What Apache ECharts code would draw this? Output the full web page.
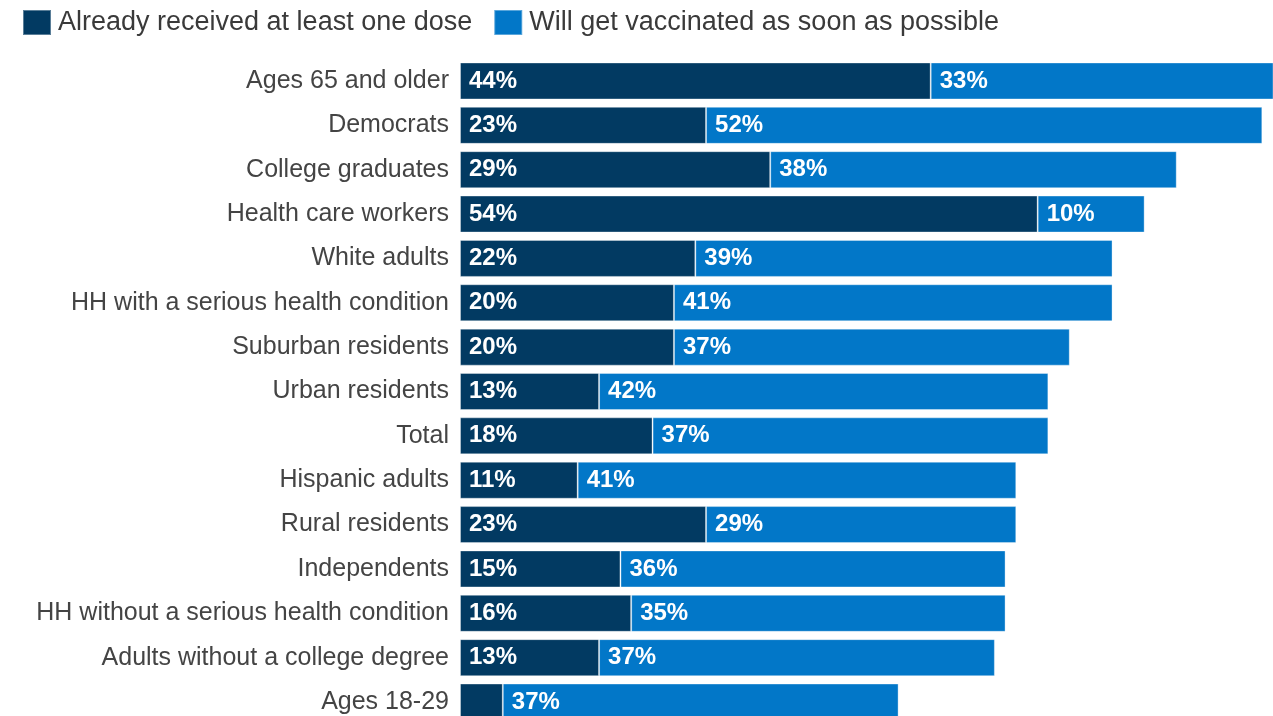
<!DOCTYPE html>
<html>
<head>
<meta charset="utf-8">
<title>Vaccination status by group</title>
<script src="https://cdn.jsdelivr.net/npm/echarts@6/dist/echarts.min.js"></script>
<style>
  html, body { margin: 0; padding: 0; background: #ffffff; overflow: hidden; }
  #chart { width: 1273px; height: 725px; }
</style>
</head>
<body>
<div id="chart"></div>
<script>
// Groups, top to bottom
const categories = [
  'Ages 65 and older',
  'Democrats',
  'College graduates',
  'Health care workers',
  'White adults',
  'HH with a serious health condition',
  'Suburban residents',
  'Urban residents',
  'Total',
  'Hispanic adults',
  'Rural residents',
  'Independents',
  'HH without a serious health condition',
  'Adults without a college degree',
  'Ages 18-29'
];

// Share (%) that already received at least one dose
const receivedDose = [44, 23, 29, 54, 22, 20, 20, 13, 18, 11, 23, 15, 16, 13, 4];

// Share (%) that will get vaccinated as soon as possible
const asSoonAsPossible = [33, 52, 38, 10, 39, 41, 37, 42, 37, 41, 29, 36, 35, 37, 37];

const seriesNames = ['Already received at least one dose', 'Will get vaccinated as soon as possible'];
const seriesColors = ['#023a62', '#0277c8'];

const chart = echarts.init(document.getElementById('chart'), null, { renderer: 'canvas' });

const barLabel = {
  show: true,
  position: 'insideLeft',
  distance: 9,
  color: '#ffffff',
  fontFamily: 'Liberation Sans, Arial, sans-serif',
  fontWeight: 'bold',
  fontSize: 24,
  padding: [2, 0, 0, 0],
  formatter: p => (p.value >= 5 ? p.value + '%' : '')
};

chart.setOption({
  animation: false,
  textStyle: { fontFamily: 'Liberation Sans, Arial, sans-serif' },
  legend: {
    left: 22,
    top: 9,
    padding: 0,
    itemWidth: 28,
    itemHeight: 25,
    itemGap: 21,
    icon: 'rect',
    selectedMode: false,
    textStyle: {
      fontSize: 27,
      color: '#3a3a3a',
      padding: [0, 0, 0, 2]
    },
    data: seriesNames
  },
  grid: {
    left: 460,
    right: 0,
    top: 58.8,
    bottom: 0.8,
    containLabel: false
  },
  // the scale runs past the right edge, so the longest bar is cut off there
  xAxis: {
    type: 'value',
    min: 0,
    max: 76,
    show: false
  },
  yAxis: {
    type: 'category',
    inverse: true,
    data: categories,
    axisLine: { show: false },
    axisTick: { show: false },
    axisLabel: {
      margin: 11,
      fontSize: 25,
      color: '#444444',
      padding: [3, 0, 0, 0]
    }
  },
  series: [
    {
      name: seriesNames[0],
      type: 'bar',
      stack: 'total',
      barWidth: 37,
      clip: true,
      data: receivedDose,
      itemStyle: { color: seriesColors[0], borderColor: 'rgba(255,255,255,0.35)', borderWidth: 1 },
      label: barLabel
    },
    {
      name: seriesNames[1],
      type: 'bar',
      stack: 'total',
      barWidth: 37,
      clip: true,
      data: asSoonAsPossible,
      itemStyle: { color: seriesColors[1], borderColor: 'rgba(255,255,255,0.35)', borderWidth: 1 },
      label: barLabel
    }
  ]
});
</script>
</body>
</html>
